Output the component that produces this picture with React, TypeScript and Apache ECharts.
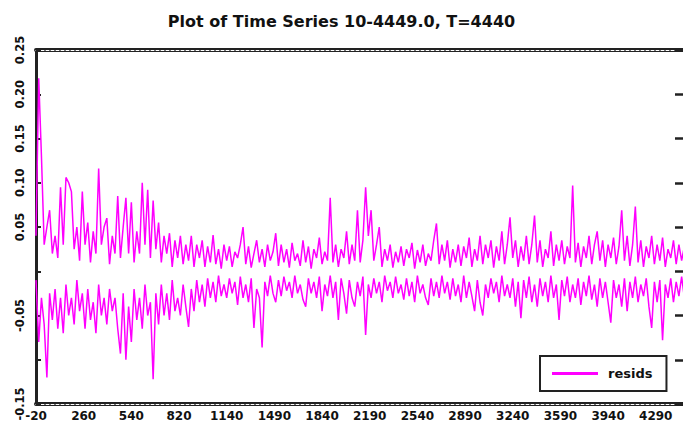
import React, { useEffect, useRef } from "react";
import * as echarts from "echarts";

const titleText = "Plot of Time Series 10-4449.0, T=4440";
const seriesName = "resids";

// tick labels along the time axis (evenly spaced on the plot)
const xLabels = ["-20", "260", "540", "820", "1140", "1490", "1840", "2190", "2540", "2890", "3240", "3590", "3940", "4290"];
// y tick labels from -0.15 to 0.25 by 0.05 ('' = unlabeled tick)
const yTickLabels = ["-0.15", "", "-0.05", "", "0.05", "0.10", "0.15", "0.20", "0.25"];

const xTickStep = 350;
const obsStep = 20;

// upper band of residuals (read left to right)
const upperResid = [
  0.04, 0.218, 0.13, 0.03, 0.05, 0.069, 0.02, 0.04, 0.015, 0.095,
  0.03, 0.106, 0.1, 0.09, 0.025, 0.05, 0.012, 0.09, 0.03, 0.055,
  0.01, 0.045, 0.02, 0.116, 0.03, 0.05, 0.06, 0.008, 0.04, 0.02,
  0.085, 0.015, 0.05, 0.083, 0.02, 0.078, 0.01, 0.045, 0.02, 0.1,
  0.03, 0.092, 0.015, 0.08, 0.025, 0.055, 0.01, 0.04, 0.02, 0.043,
  0.005, 0.035, 0.015, 0.04, 0.008, 0.03, 0.012, 0.04, 0.005, 0.03,
  0.015, 0.035, 0.005, 0.028, 0.01, 0.041, 0.008, 0.025, 0.003, 0.03,
  0.012, 0.028, 0.005, 0.022, 0.015, 0.03, 0.05, 0.008, 0.028, 0.004,
  0.02, 0.035, 0.01, 0.025, 0.005, 0.03, 0.012, 0.022, 0.043, 0.006,
  0.03, 0.01, 0.025, 0.004, 0.032, 0.012, 0.02, 0.006, 0.035, 0.01,
  0.028, 0.003, 0.025, 0.015, 0.038, 0.008, 0.022, 0.012, 0.083, 0.01,
  0.03, 0.005, 0.025, 0.015, 0.045, 0.008, 0.03, 0.012, 0.069, 0.01,
  0.035, 0.095, 0.04, 0.069, 0.012, 0.03, 0.05, 0.005, 0.025, 0.012,
  0.03, 0.004, 0.022, 0.01, 0.028, 0.006, 0.025, 0.015, 0.032, 0.003,
  0.024, 0.01, 0.03, 0.006, 0.02, 0.012, 0.035, 0.054, 0.008, 0.03,
  0.012, 0.035, 0.004, 0.025, 0.01, 0.03, 0.006, 0.028, 0.015, 0.038,
  0.005, 0.025, 0.012, 0.04, 0.008, 0.03, 0.015, 0.035, 0.004, 0.028,
  0.012, 0.045, 0.008, 0.03, 0.061, 0.015, 0.035, 0.005, 0.028, 0.012,
  0.04, 0.008, 0.03, 0.063, 0.01, 0.035, 0.005, 0.025, 0.015, 0.045,
  0.006, 0.03, 0.012, 0.035, 0.008, 0.028, 0.015, 0.097, 0.01, 0.032,
  0.005, 0.028, 0.015, 0.04, 0.008, 0.03, 0.045, 0.012, 0.035, 0.005,
  0.03, 0.015, 0.038, 0.008, 0.028, 0.069, 0.012, 0.04, 0.006, 0.03,
  0.073, 0.01, 0.035, 0.005, 0.028, 0.015, 0.04, 0.008, 0.03, 0.012,
  0.038, 0.005, 0.025, 0.015, 0.035, 0.008, 0.03, 0.012, 0.028, 0.006,
];

// lower band of residuals (read left to right)
const lowerResid = [
  -0.01, -0.08, -0.03, -0.06, -0.12, -0.025, -0.055, -0.02, -0.065, -0.03,
  -0.07, -0.015, -0.05, -0.03, -0.06, -0.01, -0.045, -0.025, -0.065, -0.02,
  -0.055, -0.035, -0.07, -0.015, -0.05, -0.03, -0.06, -0.02, -0.045, -0.03,
  -0.065, -0.093, -0.025, -0.1, -0.04, -0.08, -0.02, -0.055, -0.03, -0.065,
  -0.015, -0.05, -0.035, -0.122, -0.025, -0.06, -0.015, -0.05, -0.025, -0.055,
  -0.01, -0.045, -0.03, -0.05, -0.015, -0.04, -0.063, -0.02, -0.045, -0.01,
  -0.035, -0.015, -0.04, -0.008, -0.03, -0.012, -0.035, -0.005, -0.028, -0.015,
  -0.03, -0.008, -0.025, -0.012, -0.038, -0.006, -0.03, -0.015, -0.035, -0.008,
  -0.064, -0.02, -0.03, -0.086, -0.012, -0.028, -0.005, -0.025, -0.035, -0.01,
  -0.028, -0.006, -0.022, -0.012, -0.03, -0.005, -0.025, -0.015, -0.032, -0.04,
  -0.008, -0.025, -0.012, -0.03, -0.006, -0.045, -0.015, -0.028, -0.005, -0.03,
  -0.012, -0.055, -0.008, -0.025, -0.048, -0.01, -0.03, -0.04, -0.012, -0.028,
  -0.006, -0.072, -0.015, -0.03, -0.008, -0.025, -0.012, -0.035, -0.005, -0.022,
  -0.012, -0.03, -0.006, -0.025, -0.015, -0.032, -0.008, -0.028, -0.012, -0.035,
  -0.005, -0.025, -0.015, -0.03, -0.038, -0.008, -0.028, -0.012, -0.03, -0.005,
  -0.025, -0.012, -0.032, -0.008, -0.028, -0.015, -0.035, -0.005, -0.03, -0.012,
  -0.028, -0.045, -0.01, -0.035, -0.05, -0.015, -0.03, -0.008, -0.025, -0.012,
  -0.035, -0.005, -0.028, -0.015, -0.03, -0.008, -0.04, -0.012, -0.053, -0.01,
  -0.03, -0.006, -0.035, -0.015, -0.04, -0.008, -0.028, -0.012, -0.035, -0.005,
  -0.03, -0.015, -0.055, -0.01, -0.028, -0.006, -0.035, -0.015, -0.03, -0.008,
  -0.038, -0.012, -0.028, -0.005, -0.032, -0.015, -0.04, -0.008, -0.03, -0.012,
  -0.035, -0.058, -0.01, -0.03, -0.015, -0.04, -0.008, -0.045, -0.012, -0.03,
  -0.006, -0.035, -0.015, -0.028, -0.008, -0.04, -0.064, -0.012, -0.035, -0.01,
  -0.078, -0.015, -0.03, -0.008, -0.035, -0.012, -0.028, -0.006, -0.03, -0.015,
];

const FONT = "DejaVu Sans";
const MAGENTA = "#ff00ff";

export default function App() {
  const ref = useRef<HTMLDivElement>(null);

  useEffect(() => {
    if (!ref.current) return;
    const chart = echarts.init(ref.current, null, { renderer: "svg" });
    const xMax = 4750;
    const borderAxis = (position: string, color: string, width: number, type: any) => ({
      type: "value",
      position,
      min: 0,
      max: xMax,
      axisLine: { show: true, onZero: false, lineStyle: { color, width, type } },
      axisLabel: { show: false },
      axisTick: { show: false },
      splitLine: { show: false },
    });
    chart.setOption({
      animation: false,
      backgroundColor: "#fff",
      title: {
        text: titleText,
        left: "center",
        top: 8,
        textStyle: { fontFamily: FONT, fontWeight: "bold", fontSize: 16, color: "#111" },
      },
      legend: {
        data: [seriesName],
        left: 540,
        top: 356,
        padding: [11, 14, 11, 12],
        itemWidth: 46,
        itemHeight: 3,
        icon: "rect",
        borderColor: "#222",
        borderWidth: 2,
        backgroundColor: "#fff",
        textStyle: { fontFamily: FONT, fontWeight: "bold", fontSize: 13, color: "#111", padding: [0, 0, 0, 5] },
      },
      grid: { left: 36, top: 50, width: 649, height: 354, containLabel: false },
      xAxis: [
        {
          type: "value",
          position: "bottom",
          min: 0,
          max: xMax,
          interval: xTickStep,
          axisLine: { show: true, onZero: false, lineStyle: { color: "#222", width: 4 } },
          axisTick: { show: false },
          splitLine: { show: false },
          axisLabel: {
            margin: 6,
            fontFamily: FONT,
            fontWeight: "bold",
            fontSize: 12,
            color: "#111",
            showMaxLabel: false,
            formatter: (v: number) => xLabels[Math.round(v / xTickStep)] ?? "",
          },
        },
        borderAxis("top", "#222", 4, "solid"),
        borderAxis("bottom", "#fff", 1, [3, 2]),
        borderAxis("top", "#fff", 1, [3, 2]),
      ],
      yAxis: [
        {
          type: "value",
          position: "left",
          min: -0.15,
          max: 0.25,
          interval: 0.05,
          axisLine: { show: true, onZero: false, lineStyle: { color: "#222", width: 3 } },
          axisTick: { show: true, inside: true, length: 5, lineStyle: { color: "#222", width: 2 } },
          splitLine: { show: false },
          axisLabel: {
            rotate: 90,
            margin: 10,
            fontFamily: FONT,
            fontWeight: "bold",
            fontSize: 11.5,
            color: "#111",
            formatter: (v: number) => yTickLabels[Math.round((v + 0.15) / 0.05)] ?? "",
          },
        },
        {
          type: "value",
          position: "right",
          min: -0.15,
          max: 0.25,
          interval: 0.05,
          axisLine: { show: false, onZero: false },
          axisTick: { show: true, inside: true, length: 8, lineStyle: { color: "#222", width: 2.5 } },
          splitLine: { show: false },
          axisLabel: { show: false },
        },
      ],
      series: [
        {
          name: seriesName,
          type: "line",
          xAxisIndex: 0,
          yAxisIndex: 0,
          symbol: "none",
          color: MAGENTA,
          lineStyle: { color: MAGENTA, width: 1.5 },
          data: upperResid.map((v, i) => [i * obsStep, v]),
        },
        {
          name: seriesName,
          type: "line",
          xAxisIndex: 0,
          yAxisIndex: 0,
          symbol: "none",
          color: MAGENTA,
          lineStyle: { color: MAGENTA, width: 1.5 },
          data: lowerResid.map((v, i) => [i * obsStep, v]),
        },
      ],
    });
    return () => chart.dispose();
  }, []);

  return (
    <div
      ref={ref}
      style={{ position: "fixed", left: 0, top: 0, width: 683, height: 426, background: "#fff" }}
    />
  );
}
